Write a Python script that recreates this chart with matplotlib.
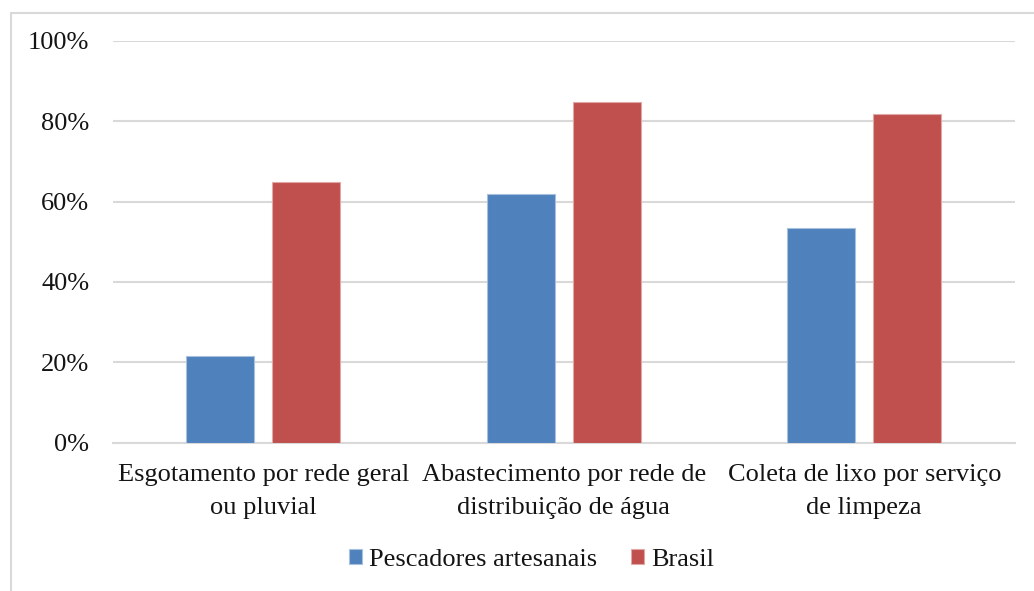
import matplotlib
matplotlib.use("Agg")
import matplotlib.pyplot as plt
from matplotlib.patches import Rectangle
from matplotlib.ticker import PercentFormatter
from matplotlib.font_manager import FontProperties
import numpy as np

categories = [
    "Esgotamento por rede geral\nou pluvial",
    "Abastecimento por rede de\ndistribuição de água",
    "Coleta de lixo por serviço\nde limpeza",
]
series_names = ["Pescadores artesanais", "Brasil"]
pescadores = [21.6, 61.9, 53.4]
brasil = [64.8, 84.7, 81.8]
y_ticks = [0, 20, 40, 60, 80, 100]

colors = ["#4F81BD", "#C0504D"]
edge_colors = ["#A7C0DE", "#E0A8A6"]

plt.rcParams["font.family"] = ["Liberation Serif", "DejaVu Serif"]
text_color = "#141414"

W, H = 1034, 591
fig = plt.figure(figsize=(W / 100, H / 100), dpi=100)
fig.patch.set_facecolor("white")

# light frame around the chart area
fig.add_artist(Rectangle((11 / W, -0.05), 1.2, (H - 13) / H + 0.05,
                         transform=fig.transFigure, fill=False,
                         edgecolor="#D9D9D9", linewidth=1.5))

ax = fig.add_axes([113 / W, 1 - 442.7 / H, (1014.5 - 113) / W, (442.7 - 40.7) / H])

x = np.arange(len(categories))
width = 0.226
offset = 0.143
ax.bar(x - offset, pescadores, width, color=colors[0], edgecolor=edge_colors[0],
       linewidth=0.8, label=series_names[0], zorder=3)
ax.bar(x + offset, brasil, width, color=colors[1], edgecolor=edge_colors[1],
       linewidth=0.8, label=series_names[1], zorder=3)

ax.set_xlim(-0.5, 2.5)
ax.set_ylim(0, 100)
ax.set_yticks(y_ticks)
ax.yaxis.set_major_formatter(PercentFormatter(decimals=0))
ax.set_xticks(x)
ax.set_xticklabels(categories, fontsize=19, color=text_color, linespacing=1.65)
ax.tick_params(axis="y", length=0, pad=17, labelsize=19, labelcolor=text_color)
ax.tick_params(axis="x", length=0, pad=15)

ax.grid(axis="y", color="#D9D9D9", linewidth=1.5, zorder=0)
ax.set_axisbelow(True)
for side in ["top", "right", "left"]:
    ax.spines[side].set_visible(False)
ax.spines["bottom"].set_color("#D9D9D9")
ax.spines["bottom"].set_linewidth(1.5)

legend_font = FontProperties(family=["Liberation Serif", "DejaVu Serif"], size=19)
leg = fig.legend(loc="center", bbox_to_anchor=(531.5 / W, 1 - 560 / H), ncol=2,
                 frameon=False, prop=legend_font, handlelength=0.49,
                 handleheight=0.49, handletextpad=0.27, columnspacing=1.29,
                 borderaxespad=0, borderpad=0)
for t in leg.get_texts():
    t.set_color(text_color)

fig.savefig("out.png", dpi=100, facecolor="white")
